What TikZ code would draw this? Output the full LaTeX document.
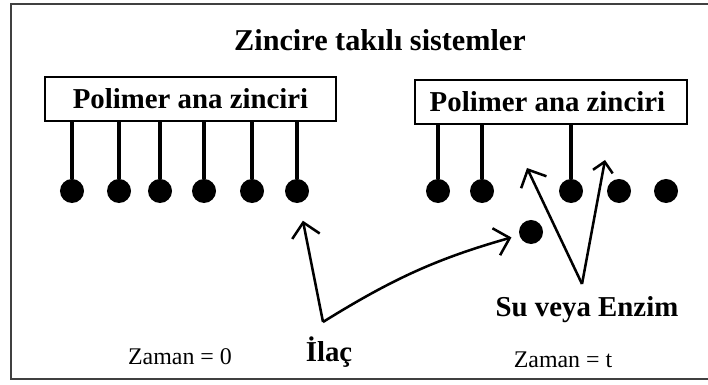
\documentclass[tikz,border=0pt]{standalone}
\usepackage{fontspec}
\setmainfont{Liberation Serif}
\usetikzlibrary{arrows.meta}

\begin{document}
\begin{tikzpicture}[x=0.025cm,y=-0.025cm,
        kutu/.style={draw,line width=1.9pt,minimum height=1.1cm,inner sep=0pt,
                     font=\bfseries\fontsize{20.5}{24}\selectfont},
        top/.style={circle,fill,inner sep=0pt,minimum size=0.6cm},
        sap/.style={line width=2.2pt},
        ok/.style={line width=1.8pt,line join=round,
                   -{Straight Barb[length=3.5mm,width=7mm,line width=1.8pt]}},
        yazi/.style={font=\bfseries\fontsize{20.5}{24}\selectfont},
        zaman/.style={font=\fontsize{17}{20}\selectfont}]
        \useasboundingbox (0,0) rectangle (708,385);
        \draw[line width=1.4pt,black!75] (708,4) -- (11,4) -- (11,379) -- (708,379);

        \node[yazi,font=\bfseries\fontsize{21.5}{26}\selectfont] (baslik) at (380,40) {Zincire takılı sistemler};

        % zaman = 0
        \node[kutu,minimum width=7.275cm] (sol) at (190.5,99) {Polimer ana zinciri};
        \foreach \x [count=\i] in {72,119,160,204,252,297} {
                \node[top] (s\i) at (\x,191) {};
                \draw[sap] (sol.south -| s\i) -- (s\i);
        }
        \node[zaman] (zaman0) at (180,357) {Zaman = 0};

        % zaman = t
        \node[kutu,minimum width=6.8cm] (sag) at (551,102) {Polimer ana zinciri~~};
        \foreach \x [count=\i] in {438,482,571,619,666}
                \node[top] (r\i) at (\x,191) {};
        \foreach \i in {1,2,3}
                \draw[sap] (sag.south -| r\i) -- (r\i);
        \node[top] (serbest) at (531,232) {};
        \node[zaman] (zamant) at (563,360) {Zaman = t};

        % oklar
        \node[yazi] (ilac) at (329,352) {İlaç};
        \node[yazi] (su) at (587,310) {Su veya Enzim};
        \coordinate (kose1) at (323,322);
        \coordinate (kose2) at (582,284);
        \coordinate (uc1) at (527,168);
        \coordinate (uc2) at (605,160);
        \draw[ok,shorten >=0.45cm] (kose1) -- (s6);
        \draw[ok,shorten >=0.2cm] (kose1) to[bend left=8] (serbest);
        \draw[ok] (kose2) -- (uc1);
        \draw[ok,-{Straight Barb[length=2.5mm,width=5mm,line width=1.8pt]}] (kose2) -- (uc2);
\end{tikzpicture}
\end{document}
